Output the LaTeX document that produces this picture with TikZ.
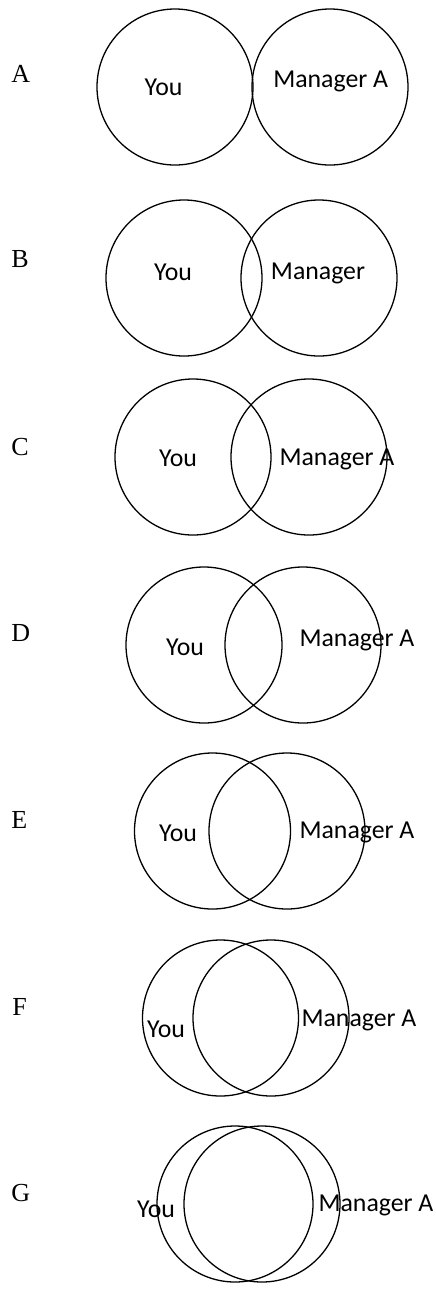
\documentclass[tikz,border=0pt]{standalone}
\usepackage{fontspec}
\newfontfamily\calfont{Carlito}
\newfontfamily\tnrfont{Liberation Serif}
\begin{document}
\begin{tikzpicture}[x=0.5pt,y=-0.5pt,
  venn/.style={draw=black,line width=0.65pt,circle,minimum size=78pt,inner sep=0pt},
  lbl/.style={anchor=base,inner sep=0pt,font=\calfont\fontsize{12.9}{15}\selectfont},
  rowlbl/.style={anchor=base west,inner sep=0pt,font=\tnrfont\fontsize{13}{15}\selectfont}]
\useasboundingbox (0,0) rectangle (435,1292);
% Row A
\node[rowlbl] (lA) at (11,82) {A};
\node[venn] (yA) at (175,87) {};
\node[venn] (mA) at (330,87) {};
\node[lbl] (tyA) at (163.5,95) {You};
\node[lbl] (tmA) at (330.7,87.5) {Manager A};
% Row B
\node[rowlbl] (lB) at (11,267) {B};
\node[venn] (yB) at (184,278) {};
\node[venn] (mB) at (319,278) {};
\node[lbl] (tyB) at (173,280) {You};
\node[lbl] (tmB) at (318,279) {Manager};
% Row C
\node[rowlbl] (lC) at (11,455) {C};
\node[venn] (yC) at (193,457) {};
\node[venn] (mC) at (309,457) {};
\node[lbl] (tyC) at (178,466.7) {You};
\node[lbl] (tmC) at (337,465) {Manager A};
% Row D
\node[rowlbl] (lD) at (11,641) {D};
\node[venn] (yD) at (204,645) {};
\node[venn] (mD) at (303,645) {};
\node[lbl] (tyD) at (185,655) {You};
\node[lbl] (tmD) at (357,646) {Manager A};
% Row E
\node[rowlbl] (lE) at (11,828) {E};
\node[venn] (yE) at (212.5,831) {};
\node[venn] (mE) at (287,831) {};
\node[lbl] (tyE) at (178,841.7) {You};
\node[lbl] (tmE) at (357,838.3) {Manager A};
% Row F
\node[rowlbl] (lF) at (12,1015) {F};
\node[venn] (yF) at (220.5,1018) {};
\node[venn] (mF) at (271,1018) {};
\node[lbl] (tyF) at (166,1037.7) {You};
\node[lbl] (tmF) at (359,1026.7) {Manager A};
% Row G
\node[rowlbl] (lG) at (11,1201) {G};
\node[venn] (yG) at (235,1204) {};
\node[venn] (mG) at (262,1204) {};
\node[lbl] (tyG) at (156,1217.7) {You};
\node[lbl] (tmG) at (376,1211.7) {Manager A};
\end{tikzpicture}
\end{document}
